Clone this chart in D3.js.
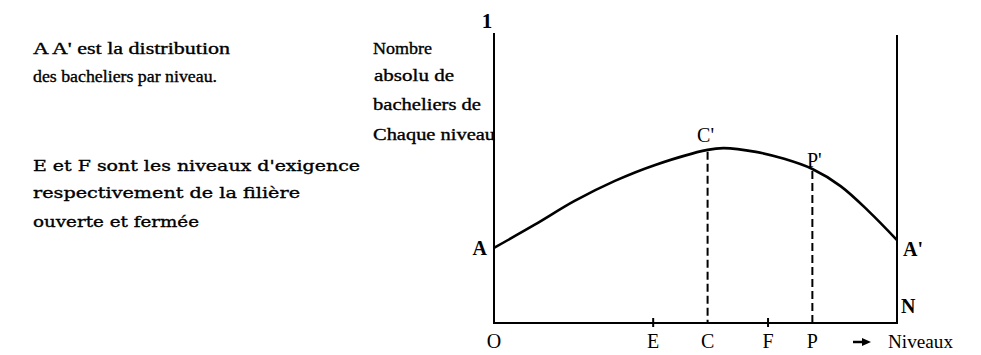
<!DOCTYPE html>
<html>
<head>
<meta charset="utf-8">
<script src="https://cdn.jsdelivr.net/npm/d3@7"></script>
<style>
  html, body { margin: 0; padding: 0; background: #fff; }
</style>
</head>
<body>
<svg id="chart" width="981" height="355" font-family="'Liberation Serif', 'Times New Roman', Times, 'DejaVu Serif', serif"></svg>
<script>
// Distribution of bacheliers by level (relative units, O = 0 .. N = 100)
const niveaux   = [0, 10, 20, 30, 40, 53, 57, 65, 72, 79, 86, 93, 100];
const effectifs = [0.259, 0.338, 0.421, 0.490, 0.545, 0.597, 0.603, 0.590, 0.566, 0.531, 0.472, 0.385, 0.286];

// Named levels on the horizontal axis
const axisNames  = ["O", "E", "C", "F", "P"];
const axisLevels = [0, 39.5, 53, 68, 79];
const tickedNames = ["E", "F"];           // exigence levels get a tick mark
const dashedNames = ["C", "P"];           // levels projected up to the curve

// Text blocks: [text, x, baseline, width]
const notesTop = [
  ["A A' est la distribution", 33, 54, 197],
  ["des bacheliers par niveau.", 33, 82, 184]
];
const notesBottom = [
  ["E et F sont les niveaux d'exigence", 33, 171, 327],
  ["respectivement de la filière", 33, 198, 267],
  ["ouverte et fermée", 33, 227, 166]
];
const yTitle = [
  ["Nombre", 373, 54, 59],
  ["absolu de", 374, 81, 80],
  ["bacheliers de", 373, 110, 108],
  ["Chaque niveau", 373, 140, 122]
];

const svg = d3.select("#chart");
const x = d3.scaleLinear().domain([0, 100]).range([494, 897]);
const y = d3.scaleLinear().domain([0, 1]).range([323, 33]);

const valueAt = lvl => effectifs[niveaux.indexOf(lvl)];
const levelOf = name => axisLevels[axisNames.indexOf(name)];

// Axes: vertical at O, vertical at N, horizontal base
const g = svg.append("g").attr("stroke", "#000").attr("stroke-width", 2).attr("fill", "none");
g.append("line").attr("x1", x(0)).attr("x2", x(0)).attr("y1", y(1)).attr("y2", y(0));
g.append("line").attr("x1", x(100)).attr("x2", x(100)).attr("y1", y(0.993)).attr("y2", y(0));
g.append("line").attr("x1", x(0) - 1).attr("x2", x(100) + 1).attr("y1", y(0)).attr("y2", y(0));

// Tick marks at E and F
tickedNames.forEach(n => {
  g.append("line").attr("x1", x(levelOf(n))).attr("x2", x(levelOf(n)))
    .attr("y1", y(0) - 5).attr("y2", y(0) + 4);
});

// Dashed projections from C' and P'
const lvC = levelOf("C"), lvP = levelOf("P");
dashedNames.forEach(n => {
  const lv = levelOf(n);
  g.append("line").attr("x1", x(lv)).attr("x2", x(lv))
    .attr("y1", y(valueAt(lv)) + 2).attr("y2", y(0))
    .attr("stroke-dasharray", "8,4");
});

// The distribution curve A A'
const line = d3.line().x((d, i) => x(niveaux[i])).y(d => y(d)).curve(d3.curveCatmullRom.alpha(0.5));
svg.append("path").datum(effectifs).attr("d", line)
  .attr("fill", "none").attr("stroke", "#000").attr("stroke-width", 2.6);

// Axis level names
axisNames.forEach(n => {
  svg.append("text").attr("x", x(levelOf(n))).attr("y", 348)
    .attr("text-anchor", "middle").attr("font-size", 20).text(n);
});
// arrow and "Niveaux"
svg.append("line").attr("x1", 853).attr("x2", 864).attr("y1", 342).attr("y2", 342)
  .attr("stroke", "#000").attr("stroke-width", 2.5);
svg.append("path").attr("d", "M862,338 L871,342 L862,346 Z").attr("fill", "#000");
svg.append("text").attr("x", 888).attr("y", 348).attr("font-size", 18)
  .attr("textLength", 65).attr("lengthAdjust", "spacingAndGlyphs").text("Niveaux");

// Point labels
svg.append("text").attr("x", x(0) - 7).attr("y", y(valueAt(0)) + 7)
  .attr("text-anchor", "end").attr("font-size", 20).attr("font-weight", "bold").text("A");
svg.append("text").attr("x", x(100) + 6).attr("y", y(valueAt(100)) + 16)
  .attr("font-size", 20).attr("font-weight", "bold").text("A'");
svg.append("text").attr("x", x(100) + 4).attr("y", y(0) - 10)
  .attr("font-size", 20).attr("font-weight", "bold").text("N");
svg.append("text").attr("x", x(lvC) - 2).attr("y", y(valueAt(lvC)) - 8)
  .attr("text-anchor", "middle").attr("font-size", 20).text("C'");
svg.append("text").attr("x", x(lvP) + 2).attr("y", y(valueAt(lvP)) - 2)
  .attr("text-anchor", "middle").attr("font-size", 20).text("P'");
svg.append("text").attr("x", x(0) - 7).attr("y", 28)
  .attr("text-anchor", "middle").attr("font-size", 21).attr("font-weight", "bold").text("1");

// Multi-line text blocks, each line fitted to its measured width
const writeLines = (rows, family, size) => rows.forEach(([t, tx, ty, w]) => {
  svg.append("text").attr("x", tx).attr("y", ty)
    .attr("font-family", family)
    .attr("font-size", size).attr("stroke", "#000").attr("stroke-width", 0.35)
    .attr("textLength", w).attr("lengthAdjust", "spacingAndGlyphs").text(t);
});
writeLines(notesTop, "'Liberation Serif', serif", 17);
writeLines(yTitle, "'Liberation Serif', serif", 17);
writeLines(notesBottom, "'DejaVu Serif', serif", 15);
</script>
</body>
</html>
